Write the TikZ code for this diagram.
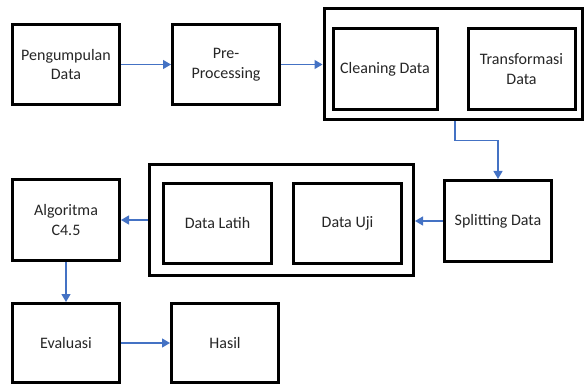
\documentclass[tikz,border=0pt]{standalone}
\usepackage{fontspec}
\setmainfont{Carlito}
\usetikzlibrary{arrows.meta}
\definecolor{flow}{HTML}{4472C4}
\definecolor{ink}{HTML}{262626}
\tikzset{
  box/.style={draw=black, line width=3pt, fill=white, align=center,
    text=ink, font=\fontsize{16}{19.5}\selectfont, inner sep=0pt},
  arr/.style={draw=flow, line width=1.3pt,
    -{Triangle[length=8pt,width=9pt]}}
}
\begin{document}
\begin{tikzpicture}[x=1pt,y=-1pt]
  \useasboundingbox (0,0) rectangle (584,385);

  % top row
  \node[box, minimum width=107pt, minimum height=80pt] (peng) at (66,64.5) {Pengumpulan\\Data};
  \node[box, minimum width=107pt, minimum height=80pt] (pre) at (226,64.5) {Pre-\\Processing};
  \node[box, minimum width=258pt, minimum height=111pt] (grp1) at (453,64.5) {};
  \node[box, minimum width=104pt, minimum height=80.5pt] (clean) at (385,69) {Cleaning Data};
  \node[box, minimum width=107pt, minimum height=80.5pt] (trans) at (521.5,69) {Transformasi\\Data};

  % middle row
  \node[box, minimum width=107pt, minimum height=81pt] (split) at (498,221) {Splitting Data};
  \node[box, minimum width=264pt, minimum height=111pt] (grp2) at (281.5,220) {};
  \node[box, minimum width=108pt, minimum height=80pt] (latih) at (217.5,223.5) {Data Latih};
  \node[box, minimum width=108pt, minimum height=80pt] (uji) at (347.5,223.5) {Data Uji};
  \node[box, minimum width=107pt, minimum height=81pt] (algo) at (66,220) {Algoritma\\C4.5};

  % bottom row
  \node[box, minimum width=107pt, minimum height=79pt] (eval) at (66,343) {Evaluasi};
  \node[box, minimum width=107pt, minimum height=79pt] (hasil) at (225,343) {Hasil};

  % connectors
  \draw[arr] (peng.east) -- (pre.west);
  \draw[arr] (pre.east) -- (grp1.west);
  \draw[arr] ([xshift=2pt]grp1.south) -- ++(0,19) -| (split.north);
  \draw[arr] (split.west) -- (grp2.east |- split.west);
  \draw[arr] (grp2.west) -- (algo.east |- grp2.west);
  \draw[arr] (algo.south) -- (eval.north);
  \draw[arr] (eval.east) -- (hasil.west);
\end{tikzpicture}
\end{document}
